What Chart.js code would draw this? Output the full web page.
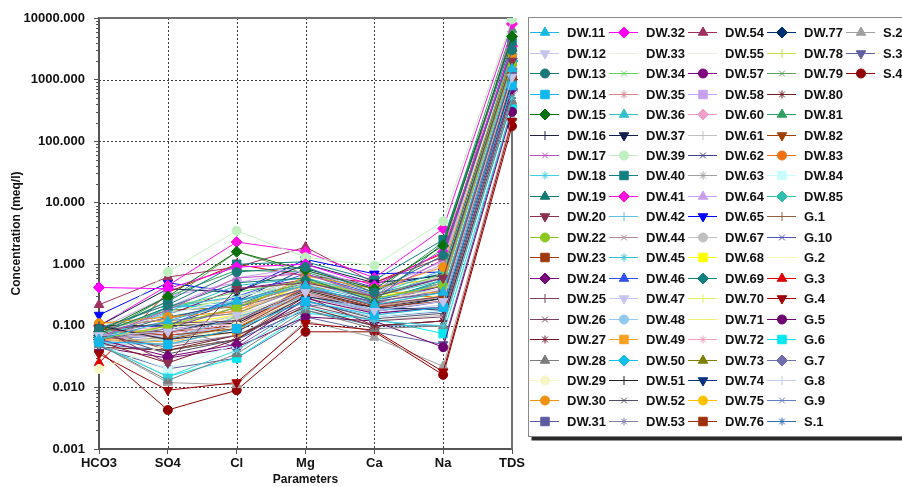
<!DOCTYPE html>
<html>
<head>
<meta charset="utf-8">
<style>
  html, body { margin: 0; padding: 0; background: #fff; overflow: hidden; }
  canvas { display: block; }
</style>
<script src="https://cdn.jsdelivr.net/npm/chart.js@4.4.1/dist/chart.umd.min.js"></script>
</head>
<body>
<canvas id="schoeller" width="902" height="487"></canvas>
<script>
// --- DATA (meq/l), one array per parameter, same order as sampleNames ---
const parameters = ['HCO3', 'SO4', 'Cl', 'Mg', 'Ca', 'Na', 'TDS'];

const sampleNames = [
  'DW.11', 'DW.12', 'DW.13', 'DW.14', 'DW.15', 'DW.16', 'DW.17', 'DW.18', 'DW.19', 'DW.20',
  'DW.22', 'DW.23', 'DW.24', 'DW.25', 'DW.26', 'DW.27', 'DW.28', 'DW.29', 'DW.30', 'DW.31',
  'DW.32', 'DW.33', 'DW.34', 'DW.35', 'DW.36', 'DW.37', 'DW.39', 'DW.40', 'DW.41', 'DW.42',
  'DW.44', 'DW.45', 'DW.46', 'DW.47', 'DW.48', 'DW.49', 'DW.50', 'DW.51', 'DW.52', 'DW.53',
  'DW.54', 'DW.55', 'DW.57', 'DW.58', 'DW.60', 'DW.61', 'DW.62', 'DW.63', 'DW.64', 'DW.65',
  'DW.67', 'DW.68', 'DW.69', 'DW.70', 'DW.71', 'DW.72', 'DW.73', 'DW.74', 'DW.75', 'DW.76',
  'DW.77', 'DW.78', 'DW.79', 'DW.80', 'DW.81', 'DW.82', 'DW.83', 'DW.84', 'DW.85', 'G.1',
  'G.10', 'G.2', 'G.3', 'G.4', 'G.5', 'G.6', 'G.7', 'G.8', 'G.9', 'S.1',
  'S.2', 'S.3', 'S.4'
];

const hco3 = [
  0.06, 0.07, 0.09, 0.055, 0.08, 0.10, 0.065, 0.05, 0.075, 0.09,
  0.06, 0.09, 0.06, 0.085, 0.07, 0.055, 0.05, 0.02, 0.11, 0.06,
  0.42, 0.08, 0.07, 0.09, 0.065, 0.10, 0.08, 0.075, 0.10, 0.05,
  0.06, 0.07, 0.095, 0.065, 0.07, 0.06, 0.055, 0.10, 0.08, 0.07,
  0.22, 0.06, 0.08, 0.09, 0.075, 0.06, 0.09, 0.055, 0.07, 0.15,
  0.085, 0.06, 0.065, 0.08, 0.07, 0.06, 0.08, 0.10, 0.11, 0.085,
  0.07, 0.065, 0.08, 0.045, 0.07, 0.09, 0.06, 0.05, 0.065, 0.09,
  0.07, 0.06, 0.025, 0.035, 0.045, 0.05, 0.06, 0.05, 0.06, 0.05,
  0.05, 0.045, 0.04
];
const so4 = [
  0.12, 0.08, 0.22, 0.05, 0.30, 0.06, 0.18, 0.015, 0.20, 0.025,
  0.10, 0.07, 0.032, 0.11, 0.045, 0.025, 0.013, 0.05, 0.14, 0.09,
  0.40, 0.15, 0.20, 0.13, 0.17, 0.40, 0.75, 0.25, 0.45, 0.06,
  0.08, 0.20, 0.10, 0.07, 0.16, 0.055, 0.20, 0.10, 0.035, 0.12,
  0.62, 0.09, 0.15, 0.30, 0.10, 0.05, 0.13, 0.065, 0.20, 0.50,
  0.22, 0.10, 0.14, 0.11, 0.09, 0.075, 0.18, 0.10, 0.12, 0.08,
  0.08, 0.16, 0.25, 0.04, 0.30, 0.06, 0.05, 0.02, 0.20, 0.04,
  0.09, 0.06, 0.35, 0.009, 0.03, 0.015, 0.10, 0.05, 0.07, 0.04,
  0.012, 0.02, 0.0043
];
const cl = [
  0.25, 0.15, 0.75, 0.09, 1.6, 0.08, 0.6, 0.04, 0.5, 0.4,
  0.2, 0.09, 0.05, 0.12, 0.07, 0.06, 0.035, 0.1, 0.17, 0.2,
  0.9, 0.3, 0.35, 0.22, 0.45, 0.35, 3.5, 1.0, 2.3, 0.14,
  0.12, 0.3, 0.3, 0.1, 0.25, 0.08, 0.22, 0.11, 0.06, 0.16,
  0.9, 0.13, 0.4, 0.5, 0.18, 0.07, 0.25, 0.09, 0.6, 0.35,
  0.28, 0.15, 0.22, 0.18, 0.14, 0.11, 0.2, 0.25, 0.16, 0.1,
  0.13, 0.3, 1.6, 0.07, 0.8, 0.1, 0.09, 0.05, 0.25, 0.06,
  0.12, 0.09, 1.0, 0.012, 0.045, 0.03, 0.045, 0.07, 0.1, 0.06,
  0.011, 0.03, 0.009
];
const mg = [
  0.45, 0.35, 0.9, 0.25, 0.8, 0.3, 0.7, 0.2, 0.6, 0.5,
  0.55, 0.35, 0.28, 0.4, 0.22, 0.3, 0.18, 0.3, 0.65, 0.4,
  1.0, 0.5, 0.55, 0.45, 0.6, 1.0, 1.3, 1.1, 1.6, 0.3,
  0.35, 0.5, 0.7, 0.32, 0.48, 0.5, 0.45, 0.38, 0.26, 0.42,
  1.9, 0.35, 0.55, 0.8, 0.4, 0.25, 0.5, 0.3, 0.9, 1.2,
  0.6, 0.5, 0.55, 0.42, 0.38, 0.33, 0.5, 0.85, 0.5, 0.42,
  0.36, 0.5, 0.7, 0.2, 0.75, 0.32, 0.45, 0.28, 0.55, 0.35,
  0.3, 0.28, 0.65, 0.11, 0.14, 0.16, 0.22, 0.2, 0.25, 0.18,
  0.12, 0.14, 0.08
];
const ca = [
  0.22, 0.18, 0.35, 0.15, 0.4, 0.2, 0.3, 0.12, 0.25, 0.3,
  0.28, 0.2, 0.16, 0.22, 0.12, 0.1, 0.09, 0.15, 0.4, 0.25,
  0.45, 0.25, 0.3, 0.22, 0.32, 0.5, 0.95, 0.55, 0.6, 0.18,
  0.2, 0.3, 0.33, 0.16, 0.28, 0.35, 0.26, 0.2, 0.13, 0.24,
  0.5, 0.2, 0.23, 0.35, 0.2, 0.12, 0.26, 0.15, 0.4, 0.7,
  0.3, 0.32, 0.24, 0.22, 0.2, 0.17, 0.27, 0.42, 0.42, 0.21,
  0.18, 0.26, 0.3, 0.1, 0.35, 0.2, 0.3, 0.14, 0.3, 0.16,
  0.17, 0.15, 0.5, 0.085, 0.12, 0.13, 0.18, 0.1, 0.14, 0.1,
  0.065, 0.08, 0.08
];
const na = [
  0.35, 0.25, 1.4, 0.2, 2.0, 0.18, 1.2, 0.1, 2.2, 0.6,
  0.45, 0.25, 0.2, 0.3, 0.14, 0.12, 0.1, 0.2, 0.9, 0.35,
  1.6, 0.4, 0.7, 0.5, 0.8, 0.65, 5.0, 2.5, 3.8, 0.2,
  0.3, 0.55, 0.6, 0.22, 0.4, 0.35, 0.5, 0.28, 0.16, 0.38,
  1.3, 0.3, 0.45, 1.0, 0.4, 0.15, 0.45, 0.2, 1.1, 0.75,
  0.65, 0.35, 0.55, 0.35, 0.32, 0.26, 0.5, 0.7, 0.6, 0.3,
  0.28, 0.5, 1.8, 0.12, 2.3, 0.3, 0.3, 0.18, 0.6, 0.2,
  0.25, 0.2, 1.5, 0.018, 0.045, 0.075, 0.2, 0.12, 0.17, 0.1,
  0.022, 0.05, 0.016
];
const tds = [
  1500, 1100, 3000, 800, 5000, 900, 6000, 500, 4000, 2000,
  1800, 1000, 700, 1200, 600, 500, 450, 700, 2500, 1300,
  3500, 1500, 2200, 1700, 2800, 2400, 9500, 4500, 8000, 900,
  1100, 2000, 2600, 850, 1500, 1400, 2000, 1100, 650, 1300,
  3200, 1000, 1800, 3500, 1500, 600, 1700, 800, 3800, 2300,
  2400, 1400, 2000, 1300, 1200, 950, 1900, 2700, 2100, 1100,
  1000, 1900, 5500, 500, 6500, 1000, 1200, 700, 2200, 700,
  900, 800, 3300, 210, 300, 330, 650, 500, 650, 450,
  240, 350, 175
];

const yTicks = [0.001, 0.01, 0.1, 1, 10, 100, 1000, 10000];

// --- STYLES ---
const seriesColors = [
  '#1ab8e0', '#c4c4ee', '#1a7878', '#10b8f0', '#0a700a', '#202048', '#c050c0', '#40d0e0', '#107a70', '#8c3050',
  '#8cc81e', '#a0380c', '#780078', '#7a4060', '#7a4060', '#7a1830', '#7c7c7c', '#f6f6c4', '#f09010', '#5c5ca0',
  '#ff00ff', '#eeeee4', '#60d060', '#d08888', '#30c0c8', '#102050', '#c0f0c0', '#108080', '#ff10e0', '#60c0e0',
  '#b08898', '#30c0c8', '#3050f0', '#c4c4f8', '#90c8f0', '#f8a020', '#10c0e8', '#202020', '#505068', '#8080a8',
  '#a03060', '#eeeee4', '#800080', '#c8a0f0', '#f0a0c8', '#c0c0c0', '#404090', '#a0a0a0', '#c8a0f8', '#0000ff',
  '#c0c0c0', '#ffff00', '#108080', '#e0f060', '#f0f070', '#f0a0c0', '#808000', '#003080', '#ffc000', '#a03008',
  '#003070', '#c0e040', '#60a060', '#702020', '#30a060', '#a04000', '#f07010', '#c8fcfc', '#30c0b0', '#906040',
  '#5050c0', '#f6f6bc', '#e00000', '#a00000', '#700070', '#00e8f0', '#7070b0', '#c0d0e8', '#6080c0', '#3070b0',
  '#a0a0a0', '#6060a0', '#900000'
];
const markerKinds = [
  'tri', 'triDown', 'circle', 'rect', 'diamond', 'plus', 'x', 'star', 'tri', 'triDown',
  'circle', 'rect', 'diamond', 'plus', 'x', 'star', 'tri', 'circle', 'circle', 'rect',
  'diamond', 'none', 'x', 'star', 'tri', 'triDown', 'circle', 'rect', 'diamond', 'plus',
  'x', 'star', 'tri', 'triDown', 'circle', 'rect', 'diamond', 'plus', 'x', 'star',
  'tri', 'none', 'circle', 'rect', 'diamond', 'plus', 'x', 'star', 'tri', 'triDown',
  'circle', 'rect', 'diamond', 'plus', 'dash', 'star', 'tri', 'triDown', 'circle', 'rect',
  'diamond', 'plus', 'x', 'star', 'tri', 'triDown', 'circle', 'rect', 'diamond', 'plus',
  'x', 'dash', 'tri', 'triDown', 'circle', 'rect', 'diamond', 'plus', 'x', 'star',
  'tri', 'triDown', 'circle'
];

const pointStyleMap = {
  tri: ['triangle', 0], triDown: ['triangle', 180], circle: ['circle', 0], rect: ['rect', 0],
  diamond: ['rectRot', 0], plus: ['cross', 0], x: ['crossRot', 0], star: ['star', 0],
  dash: ['line', 0], none: ['circle', 0]
};
const markerRadius = { tri: 5.5, triDown: 5.5, circle: 4.5, rect: 6, diamond: 5.5, plus: 4.5, x: 4, star: 4, dash: 4, none: 0 };

const FONT = "Arial, 'Liberation Sans', sans-serif";

const datasets = sampleNames.map((name, i) => {
  const kind = markerKinds[i];
  const [style, rot] = pointStyleMap[kind];
  return {
    label: name,
    data: [hco3[i], so4[i], cl[i], mg[i], ca[i], na[i], tds[i]],
    borderColor: seriesColors[i],
    backgroundColor: seriesColors[i],
    pointBackgroundColor: seriesColors[i],
    pointBorderColor: seriesColors[i],
    borderWidth: 1,
    pointStyle: style,
    pointRotation: rot,
    pointRadius: markerRadius[kind],
    pointBorderWidth: 1,
    tension: 0,
    fill: false
  };
});

// --- PLUGINS ---
// Dotted grid, frame (top + right) and minor ticks on the log axis
const framePlugin = {
  id: 'frame',
  beforeDatasetsDraw(chart) {
    const { ctx, chartArea: a } = chart;
    const x = chart.scales.x, y = chart.scales.y;
    ctx.save();

    ctx.strokeStyle = '#3a3a3a';
    ctx.lineWidth = 1;
    ctx.setLineDash([2, 2]);
    ctx.beginPath();
    yTicks.slice(1, -1).forEach(v => {
      const py = Math.round(y.getPixelForValue(v)) + 0.5;
      ctx.moveTo(a.left, py);
      ctx.lineTo(a.right, py);
    });
    parameters.slice(1, -1).forEach((p, i) => {
      const px = Math.round(x.getPixelForValue(i + 1)) + 0.5;
      ctx.moveTo(px, a.top);
      ctx.lineTo(px, a.bottom);
    });
    ctx.stroke();
    ctx.setLineDash([]);

    ctx.strokeStyle = '#707070';
    ctx.lineWidth = 2;
    ctx.beginPath();
    ctx.moveTo(a.left, a.top);
    ctx.lineTo(a.right, a.top);
    ctx.lineTo(a.right, a.bottom);
    ctx.stroke();

    ctx.strokeStyle = '#555';
    ctx.lineWidth = 1;
    ctx.beginPath();
    for (let d = 0; d < yTicks.length - 1; d++) {
      for (let k = 2; k <= 9; k++) {
        const py = Math.round(y.getPixelForValue(yTicks[d] * k)) + 0.5;
        ctx.moveTo(a.left - 3, py);
        ctx.lineTo(a.left, py);
      }
    }
    ctx.stroke();
    ctx.restore();
  }
};

// Boxed legend, filled column by column
const boxLegend = {
  id: 'boxLegend',
  afterDraw(chart) {
    const { ctx } = chart;
    const boxL = 528.5, boxT = 17.5, boxB = 436.5;
    const rowsPerCol = 20, rowH = 20.45, firstRow = 32.3;
    const textX0 = 567, colW = 79;
    ctx.save();
    ctx.fillStyle = '#2a2a2a';
    ctx.fillRect(boxL + 3, boxT + 3, 1000, boxB - boxT + 1);
    ctx.fillStyle = '#ffffff';
    ctx.fillRect(boxL, boxT, 1000, boxB - boxT);
    ctx.strokeStyle = '#8a8a8a';
    ctx.lineWidth = 1;
    ctx.strokeRect(boxL, boxT, 1000, boxB - boxT);

    ctx.font = 'bold 13px ' + FONT;
    ctx.textBaseline = 'middle';
    ctx.textAlign = 'left';
    chart.data.datasets.forEach((ds, i) => {
      const col = Math.floor(i / rowsPerCol);
      const row = i % rowsPerCol;
      const tx = textX0 + col * colW;
      const cy = Math.round(firstRow + row * rowH) + 0.5;
      ctx.strokeStyle = ds.borderColor;
      ctx.lineWidth = 1;
      ctx.beginPath();
      ctx.moveTo(tx - 37, cy);
      ctx.lineTo(tx - 8, cy);
      ctx.stroke();
      if (ds.pointRadius > 0 && Chart.helpers && Chart.helpers.drawPoint) {
        ctx.fillStyle = ds.pointBackgroundColor;
        ctx.strokeStyle = ds.pointBorderColor;
        Chart.helpers.drawPoint(ctx, {
          pointStyle: ds.pointStyle,
          rotation: ds.pointRotation,
          radius: ds.pointRadius,
          borderWidth: 1
        }, tx - 22, cy);
      }
      ctx.fillStyle = '#111';
      ctx.fillText(ds.label, tx, cy + 0.5);
    });
    ctx.restore();
  }
};

new Chart(document.getElementById('schoeller'), {
  type: 'line',
  data: { labels: parameters, datasets },
  options: {
    responsive: false,
    animation: false,
    devicePixelRatio: 1,
    layout: { padding: { left: 0, top: 18, right: 390, bottom: 0 } },
    plugins: {
      legend: { display: false },
      tooltip: { enabled: false }
    },
    scales: {
      x: {
        type: 'category',
        offset: false,
        afterFit: (scale) => { scale.height = 38; },
        grid: { drawOnChartArea: false, color: '#555', lineWidth: 1, tickLength: 5, tickColor: '#555' },
        border: { display: true, color: '#555', width: 2 },
        ticks: { color: '#111', font: { family: FONT, size: 13, weight: 'bold' }, padding: 2, maxRotation: 0, autoSkip: false },
        title: { display: true, text: 'Parameters', color: '#111', font: { family: FONT, size: 12, weight: 'bold' }, padding: { top: 0, bottom: 0 } }
      },
      y: {
        type: 'logarithmic',
        min: 0.001,
        max: 10000,
        afterBuildTicks: (scale) => { scale.ticks = yTicks.map(v => ({ value: v, major: true })); },
        afterFit: (scale) => { scale.width = 99; },
        grid: { drawOnChartArea: false, color: '#555', lineWidth: 1, tickLength: 5, tickColor: '#555' },
        border: { display: true, color: '#555', width: 2 },
        ticks: {
          color: '#111',
          font: { family: FONT, size: 13, weight: 'bold' },
          padding: 9,
          callback: (v) => Number(v).toFixed(3)
        },
        title: { display: true, text: 'Concentration (meq/l)', color: '#111', font: { family: FONT, size: 12, weight: 'bold' }, padding: { top: 9, bottom: 0 } }
      }
    }
  },
  plugins: [framePlugin, boxLegend]
});
</script>
</body>
</html>
